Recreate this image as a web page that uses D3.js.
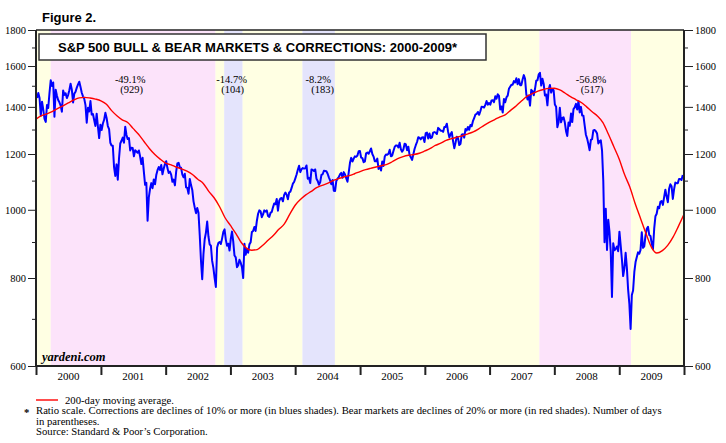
<!DOCTYPE html>
<html><head><meta charset="utf-8">
<script src="https://cdn.jsdelivr.net/npm/d3@7"></script>
<style>
html,body{margin:0;padding:0;background:#fff;}
svg{display:block;}
</style></head>
<body>
<svg id="c" width="726" height="443"></svg>
<script>
// ---------- DATA ----------
// Weekly S&P 500 closes (Fridays), first week ending 2000-01-07
const spx2000 = [1441,1465,1441,1360, 1424,1387,1346,1333, 1409,1395,1464,1527,1499, 1516,1356,1481,1452, 1432,1421,1406,1378, 1477,1456,1464,1441,1455, 1478,1510,1481,1420, 1462,1471,1491,1507, 1520,1494,1466,1449,1437, 1408,1329,1396,1379, 1427,1365,1368,1341, 1315,1369,1313,1264,1320];
const spx2001 = [1298,1326,1342,1373, 1350,1315,1302,1245, 1234,1233,1150,1117,1160, 1103,1183,1242,1253, 1266,1245,1312,1277, 1260,1264,1214,1225,1224, 1191,1215,1210,1205, 1214,1190,1161,1185,1133, 1085,1092,965,1041, 1071,1091,1073,1104, 1087,1120,1138,1150,1139, 1158,1123,1144,1161];
const spx2002 = [1172,1146,1128,1133, 1122,1096,1104,1083, 1132,1164,1166,1148,1147, 1122,1112,1125,1076, 1074,1054,1106,1084,1067, 1028,1007,989,1006, 990,921,847,797, 865,908,928,962,917, 893,889,846,827, 800,777,884,897, 900,894,910,930,938, 907,889,895,875];
const spx2003 = [909,931,901,861,856, 829,834,849,841, 829,800,895,863, 879,869,893,899, 930,933,945,933,964, 987,998,995,976, 985,998,994,998, 980,977,990,993,1008, 1021,1018,1036,997, 1029,1038,1039,1028,1050, 1058,1050,1035,1058, 1061,1074,1089,1095];
const spx2004 = [1108,1122,1140,1155,1131, 1142,1146,1144,1145, 1156,1107,1110,1091, 1141,1139,1135,1141,1107, 1099,1085,1094,1121, 1123,1136,1135,1134, 1125,1112,1101,1087,1102, 1064,1063,1099,1107, 1113,1123,1128,1110, 1131,1122,1108,1096,1130, 1166,1185,1171,1182, 1191,1189,1194,1211,1212];
const spx2005 = [1186,1184,1168,1171, 1203,1206,1201,1211, 1222,1200,1190,1172, 1172,1182,1143,1152,1137, 1171,1154,1190,1198, 1197,1201,1217,1191, 1194,1212,1228,1234,1234, 1226,1245,1219,1209, 1218,1241,1238,1215,1229, 1196,1187,1177,1198, 1220,1235,1248,1268, 1265,1259,1267,1268,1248];
const spx2006 = [1285,1287,1262,1283, 1264,1267,1287,1289, 1287,1281,1307,1302,1295, 1295,1290,1311,1311, 1325,1291,1267,1280, 1289,1252,1223,1245,1270, 1265,1236,1240,1278, 1280,1266,1302,1296, 1311,1299,1319,1314,1336, 1349,1365,1368,1377, 1364,1380,1401,1400, 1397,1409,1427,1410,1418];
const spx2007 = [1410,1430,1431,1422, 1449,1438,1459,1451, 1388,1402,1374,1437,1421, 1444,1452,1485,1495, 1505,1505,1523,1516, 1537,1507,1533,1503,1503, 1531,1553,1534,1459, 1434,1453,1406,1480,1474, 1454,1484,1525,1527, 1557,1565,1501,1535, 1509,1453,1458,1407,1481, 1504,1467,1484,1478];
const spx2008 = [1411,1401,1310,1331, 1396,1331,1350,1353,1331, 1293,1273,1330,1316, 1370,1332,1390,1398, 1414,1388,1426,1375,1400, 1361,1360,1318,1278, 1262,1240,1215,1257, 1260,1296,1298,1293,1283, 1242,1252,1255,1213, 1099,899,1003,877,968, 930,873,752,896, 876,880,887,873];
const spx2009 = [931,890,850,805,826, 869,827,770,735, 677,757,768,816, 843,857,870,866, 877,929,883,887,919, 940,946,921,918, 896,879,940,979,987, 1010,1005,1026,1029, 1016,1042,1068,1044, 1025,1071,1087,1080,1036, 1069,1093,1091,1091, 1106,1106,1102,1120];

// 200-day moving average, monthly (first of month), from Jan 2000
const ma2000 = [1345,1360,1368,1378,1392,1405,1418,1432,1442,1444,1441,1436];
const ma2001 = [1428,1412,1384,1360,1342,1330,1305,1280,1250,1222,1198,1180];
const ma2002 = [1165,1158,1150,1143,1135,1122,1105,1090,1062,1040,1010,975];
const ma2003 = [950,925,900,882,876,878,890,905,920,938,955,985];
const ma2004 = [1015,1035,1050,1062,1075,1083,1090,1100,1107,1113,1118,1125];
const ma2005 = [1133,1140,1145,1150,1155,1160,1170,1182,1190,1195,1198,1203];
const ma2006 = [1212,1222,1234,1243,1255,1262,1268,1274,1282,1290,1303,1318];
const ma2007 = [1332,1344,1355,1365,1385,1405,1428,1450,1463,1474,1482,1487];
const ma2008 = [1488,1480,1465,1448,1434,1420,1400,1378,1358,1330,1280,1230];
const ma2009 = [1180,1120,1078,1020,972,925,885,868,875,890,915,948];
const maEnd = [985];

// Market phases
const phaseStart = ["2000-01-01","2000-03-24","2002-10-09","2002-11-27","2003-03-11","2004-02-11","2004-08-12","2007-10-09","2009-03-09"];
const phaseEnd   = ["2000-03-24","2002-10-09","2002-11-27","2003-03-11","2004-02-11","2004-08-12","2007-10-09","2009-03-09","2010-01-01"];
const phaseType  = ["bull","bear","bull","corr","bull","corr","bull","bear","bull"];

// Decline annotations
const noteDate = ["2001-06-15","2003-01-08","2004-05-10","2008-07-26"];
const notePct  = ["-49.1%","-14.7%","-8.2%","-56.8%"];
const noteDays = ["(929)","(104)","(183)","(517)"];
const noteDx   = [1.5, 1, 4.5, 1];

const majorTicks = [600,800,1000,1200,1400,1600,1800];
const minorTicks = [700,900,1100,1300,1500,1700];
const years = [2000,2001,2002,2003,2004,2005,2006,2007,2008,2009];

const titleText = "S&P 500 BULL & BEAR MARKETS & CORRECTIONS: 2000-2009*";

// ---------- BUILD ----------
const parse = d3.timeParse("%Y-%m-%d");
const spx = [].concat(spx2000,spx2001,spx2002,spx2003,spx2004,spx2005,spx2006,spx2007,spx2008,spx2009);
const weekStart = new Date(2000,0,7);
const spxData = spx.map((v,i)=>({date:d3.timeDay.offset(weekStart,7*i), v}));
const ma = [].concat(ma2000,ma2001,ma2002,ma2003,ma2004,ma2005,ma2006,ma2007,ma2008,ma2009,maEnd);
const maData = ma.map((v,i)=>({date:d3.timeMonth.offset(new Date(2000,0,1),i), v}));

const L=36, R=684, T=30, B=366;
const x = d3.scaleTime().domain([new Date(2000,0,1), new Date(2010,0,1)]).range([L,R]);
const y = d3.scaleLog().domain([600,1800]).range([B,T]);

const svg = d3.select("#c");
const serif = "'Liberation Serif','Times New Roman',serif";
const sans = "'Liberation Sans',Arial,sans-serif";

const fills = {bull:"#FFFFE3", bear:"#FCE3FA", corr:"#E4E4FC"};
svg.append("g").selectAll("rect").data(phaseType).join("rect")
  .attr("x",(d,i)=>x(parse(phaseStart[i])))
  .attr("width",(d,i)=>x(parse(phaseEnd[i]))-x(parse(phaseStart[i])))
  .attr("y",T).attr("height",B-T)
  .attr("fill",d=>fills[d]);

// title box
svg.append("rect").attr("x",39).attr("y",34).attr("width",447).attr("height",26)
  .attr("fill","#fff").attr("stroke","#333").attr("stroke-width",1.5);
svg.append("text").attr("x",58).attr("y",52).attr("font-family",sans).attr("font-weight","bold")
  .attr("font-size",13).attr("fill","#000").text(titleText);

svg.append("text").attr("x",42).attr("y",22).attr("font-family",sans).attr("font-weight","bold")
  .attr("font-size",13).attr("fill","#000").text("Figure 2.");

// annotations
const ng = svg.append("g").attr("font-family",serif).attr("font-size",10.5).attr("text-anchor","middle").attr("fill","#000");
ng.selectAll("text.p").data(notePct).join("text").attr("class","p")
  .attr("x",(d,i)=>x(parse(noteDate[i]))).attr("y",83).text(d=>d);
ng.selectAll("text.n").data(noteDays).join("text").attr("class","n")
  .attr("x",(d,i)=>x(parse(noteDate[i]))+noteDx[i]).attr("y",93).text(d=>d);

// lines
svg.append("defs").append("clipPath").attr("id","clip").append("rect")
  .attr("x",L).attr("y",T).attr("width",R-L).attr("height",B-T);
const g = svg.append("g").attr("clip-path","url(#clip)");
g.append("path").datum(spxData)
  .attr("d",d3.line().x(d=>x(d.date)).y(d=>y(d.v)))
  .attr("fill","none").attr("stroke","#0000FF").attr("stroke-width",2).attr("stroke-linejoin","round");
g.append("path").datum(maData)
  .attr("d",d3.line().curve(d3.curveMonotoneX).x(d=>x(d.date)).y(d=>y(d.v)))
  .attr("fill","none").attr("stroke","#FF0000").attr("stroke-width",1.4);

svg.append("text").attr("x",42).attr("y",361).attr("font-family",serif).attr("font-weight","bold")
  .attr("font-style","italic").attr("font-size",12.5).attr("fill","#000").text("yardeni.com");

// axes
function styleAxis(sel){
  sel.selectAll("path.domain").remove();
  sel.selectAll("line").attr("stroke","#222").attr("stroke-width",1);
  sel.selectAll("text").attr("font-family",serif).attr("font-size",10.5).attr("fill","#000");
}
svg.append("g").attr("transform",`translate(${L},0)`)
  .call(d3.axisLeft(y).tickValues(majorTicks).tickSize(8).tickPadding(2).tickFormat(d3.format("d"))).call(styleAxis);
svg.append("g").attr("transform",`translate(${L},0)`)
  .call(d3.axisLeft(y).tickValues(minorTicks).tickSize(4).tickFormat("")).call(styleAxis);
svg.append("g").attr("transform",`translate(${R},0)`)
  .call(d3.axisRight(y).tickValues(majorTicks).tickSize(9).tickPadding(2).tickFormat(d3.format("d"))).call(styleAxis);
svg.append("g").attr("transform",`translate(${R},0)`)
  .call(d3.axisRight(y).tickValues(minorTicks).tickSize(4).tickFormat("")).call(styleAxis);

const yearBounds = years.concat([2010]).map(yy=>new Date(yy,0,1));
svg.append("g").attr("transform",`translate(0,${B})`)
  .call(d3.axisBottom(x).tickValues(yearBounds).tickSize(9).tickFormat("")).call(styleAxis)
  .selectAll("line").attr("stroke-width",2);
svg.append("g").attr("font-family",serif).attr("font-size",11).attr("text-anchor","middle").attr("fill","#000")
  .selectAll("text").data(years).join("text")
  .attr("x",d=>x(new Date(d,6,2))).attr("y",380).text(d=>d);

// frame
svg.append("line").attr("x1",L).attr("x2",R).attr("y1",T).attr("y2",T).attr("stroke","#222").attr("stroke-width",1.5);
svg.append("line").attr("x1",L).attr("x2",R).attr("y1",B).attr("y2",B).attr("stroke","#222").attr("stroke-width",2);
svg.append("line").attr("x1",L).attr("x2",L).attr("y1",T).attr("y2",B+1).attr("stroke","#222").attr("stroke-width",2);
svg.append("line").attr("x1",R).attr("x2",R).attr("y1",T).attr("y2",B+1).attr("stroke","#222").attr("stroke-width",2);

// legend & footnotes
svg.append("line").attr("x1",36).attr("x2",58).attr("y1",400).attr("y2",400).attr("stroke","#FF0000").attr("stroke-width",1.4);
const fg = svg.append("g").attr("font-family",serif).attr("font-size",10.7).attr("fill","#000");
fg.append("text").attr("x",65).attr("y",403.5).text("200-day moving average.");
fg.append("text").attr("x",24).attr("y",416).attr("font-weight","bold").text("*");
fg.append("text").attr("x",36).attr("y",414).text("Ratio scale. Corrections are declines of 10% or more (in blues shades). Bear markets are declines of 20% or more (in red shades). Number of days");
fg.append("text").attr("x",36).attr("y",424.5).text("in parentheses.");
fg.append("text").attr("x",36).attr("y",435).text("Source: Standard & Poor’s Corporation.");
</script>
</body></html>
